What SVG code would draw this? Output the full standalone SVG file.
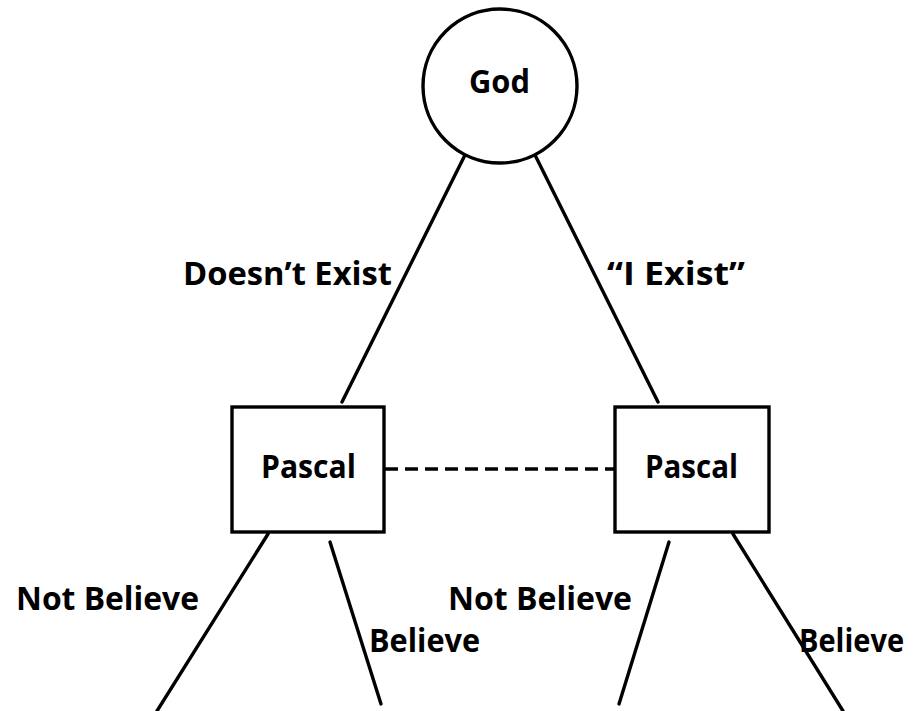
<svg xmlns="http://www.w3.org/2000/svg" width="913" height="711" viewBox="0 0 913 711">
<style>
.shape{fill:#fff;stroke:#000;stroke-width:3.4}
.edge{stroke:#000;stroke-width:3.4;fill:none;stroke-linecap:round}
.dash{stroke:#000;stroke-width:3.4;stroke-dasharray:13 7;fill:none}
text{font-family:"Open Sans","Noto Sans","DejaVu Sans",sans-serif;font-weight:700;font-size:33px;fill:#000}
</style>
<rect width="913" height="711" fill="#fff"/>
<g id="connectors">
<line class="edge" x1="465" y1="155" x2="342" y2="402"/>
<line class="edge" x1="535" y1="155" x2="658" y2="402"/>
<line class="dash" x1="385" y1="469" x2="614" y2="469"/>
<line class="edge" x1="268" y1="534" x2="157" y2="711"/>
<line class="edge" x1="330" y1="542" x2="381" y2="704"/>
<line class="edge" x1="669" y1="542" x2="619" y2="704"/>
<line class="edge" x1="733" y1="534" x2="843" y2="711"/>
<text x="183" y="285" textLength="209" lengthAdjust="spacingAndGlyphs">Doesn’t Exist</text>
<text x="607" y="285" textLength="138" lengthAdjust="spacingAndGlyphs">“I Exist”</text>
<text x="16" y="610" textLength="183" lengthAdjust="spacingAndGlyphs">Not Believe</text>
<text x="369" y="652" textLength="111" lengthAdjust="spacingAndGlyphs">Believe</text>
<text x="448" y="610" textLength="184" lengthAdjust="spacingAndGlyphs">Not Believe</text>
<text x="799" y="652" textLength="105" lengthAdjust="spacingAndGlyphs">Believe</text>
</g>
<g id="god">
<circle class="shape" cx="500" cy="86" r="77"/>
<text x="469" y="93" textLength="61" lengthAdjust="spacingAndGlyphs">God</text>
</g>
<g id="pascal-left">
<rect class="shape" x="232" y="407" width="152" height="125"/>
<text x="261" y="478" textLength="95" lengthAdjust="spacingAndGlyphs">Pascal</text>
</g>
<g id="pascal-right">
<rect class="shape" x="615" y="407" width="154" height="125"/>
<text x="645" y="478" textLength="93" lengthAdjust="spacingAndGlyphs">Pascal</text>
</g>
</svg>
